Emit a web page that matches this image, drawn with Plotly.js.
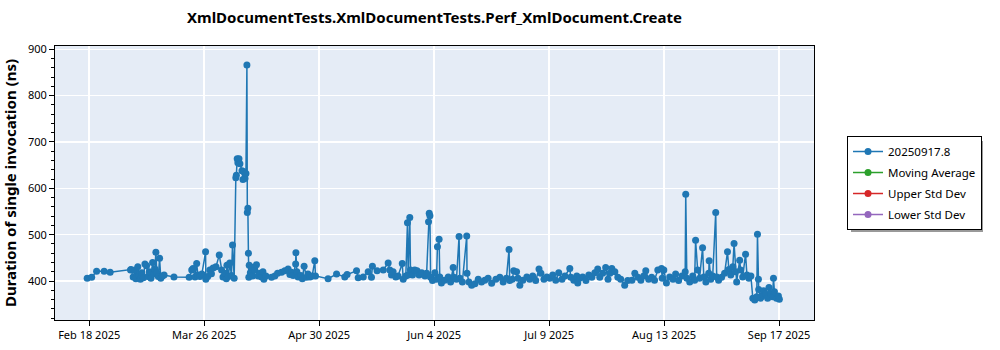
<!DOCTYPE html>
<html>
<head>
<meta charset="utf-8">
<script src="https://cdn.plot.ly/plotly-3.0.1.min.js"></script>
<style>html,body{margin:0;padding:0;background:#fff}#chart{width:1000px;height:350px}</style>
</head>
<body>
<div id="chart"></div>
<script>
const chartTitle = "XmlDocumentTests.XmlDocumentTests.Perf_XmlDocument.Create";
const yTitle = "Duration of single invocation (ns)";
const seriesNames = ["20250917.8", "Moving Average", "Upper Std Dev", "Lower Std Dev"];
const tickDates = ["2025-02-19", "2025-03-26", "2025-04-30", "2025-06-04", "2025-07-09", "2025-08-13", "2025-09-17"];
const tickLabels = ["Feb 18 2025", "Mar 26 2025", "Apr 30 2025", "Jun 4 2025", "Jul 9 2025", "Aug 13 2025", "Sep 17 2025"];

const runDates = [
"2025-02-18 09:00","2025-02-19 18:00","2025-02-21 06:00","2025-02-23 13:00","2025-02-25 09:00",
"2025-03-03 14:00","2025-03-03 17:00","2025-03-04 09:00","2025-03-04 22:00","2025-03-05 05:00","2025-03-05 19:00",
"2025-03-06 03:00","2025-03-06 14:00","2025-03-07 00:00","2025-03-07 12:00","2025-03-07 23:00","2025-03-08 11:00",
"2025-03-08 21:00","2025-03-09 07:00","2025-03-09 19:00","2025-03-10 07:00","2025-03-10 17:00","2025-03-11 00:00",
"2025-03-11 07:00","2025-03-11 14:00","2025-03-12 01:00","2025-03-12 10:00","2025-03-12 19:00","2025-03-13 07:00",
"2025-03-13 19:00","2025-03-16 19:00","2025-03-21 10:00","2025-03-22 05:00","2025-03-22 14:00","2025-03-23 05:00",
"2025-03-23 17:00","2025-03-24 02:00","2025-03-24 17:00","2025-03-25 07:00","2025-03-26 10:00","2025-03-26 12:00",
"2025-03-27 02:00","2025-03-27 17:00","2025-03-28 05:00","2025-03-28 17:00","2025-03-29 14:00","2025-03-30 14:00",
"2025-03-31 07:00","2025-03-31 17:00","2025-04-01 07:00","2025-04-01 18:00","2025-04-01 22:00","2025-04-02 09:00",
"2025-04-02 19:00","2025-04-03 07:00","2025-04-03 15:00","2025-04-04 03:00",
"2025-04-04 15:00","2025-04-04 19:00","2025-04-05 01:00","2025-04-05 06:00","2025-04-05 14:00","2025-04-05 21:00",
"2025-04-06 12:00","2025-04-06 19:00","2025-04-07 02:00","2025-04-07 10:00","2025-04-07 17:00","2025-04-08 00:00",
"2025-04-08 03:00","2025-04-08 07:00","2025-04-08 11:00",
"2025-04-08 14:00","2025-04-08 17:00","2025-04-09 01:00","2025-04-09 12:00","2025-04-09 19:00","2025-04-10 10:00",
"2025-04-10 22:00","2025-04-11 10:00","2025-04-11 23:00","2025-04-12 11:00","2025-04-12 21:00","2025-04-13 04:00",
"2025-04-13 19:00","2025-04-15 12:00","2025-04-16 12:00","2025-04-17 08:00","2025-04-18 13:00","2025-04-19 13:00",
"2025-04-20 13:00","2025-04-21 02:00","2025-04-21 14:00","2025-04-22 02:00","2025-04-22 20:00","2025-04-22 22:00",
"2025-04-23 05:00","2025-04-23 14:00","2025-04-24 10:00","2025-04-24 21:00","2025-04-25 10:00","2025-04-26 04:00",
"2025-04-26 14:00","2025-04-27 05:00","2025-04-27 21:00","2025-04-28 16:00","2025-04-28 21:00",
"2025-05-02 17:00","2025-05-05 07:00","2025-05-07 19:00","2025-05-08 12:00","2025-05-11 09:00","2025-05-11 21:00",
"2025-05-13 10:00","2025-05-14 22:00","2025-05-15 22:00","2025-05-16 05:00","2025-05-17 15:00","2025-05-19 12:00",
"2025-05-21 00:00","2025-05-21 12:00","2025-05-22 00:00","2025-05-22 12:00","2025-05-23 08:00","2025-05-24 00:00",
"2025-05-25 07:00","2025-05-25 14:00","2025-05-26 09:00","2025-05-26 21:00","2025-05-27 02:00","2025-05-27 14:00",
"2025-05-27 19:00","2025-05-28 10:00","2025-05-29 02:00","2025-05-29 19:00","2025-05-30 10:00","2025-05-31 05:00",
"2025-06-01 05:00","2025-06-01 17:00","2025-06-02 07:00","2025-06-02 12:00","2025-06-02 17:00","2025-06-02 22:00",
"2025-06-03 12:00","2025-06-04 05:00","2025-06-04 17:00","2025-06-05 00:00","2025-06-05 12:00","2025-06-05 17:00",
"2025-06-06 05:00","2025-06-07 05:00","2025-06-08 07:00","2025-06-09 00:00","2025-06-09 19:00","2025-06-10 00:00",
"2025-06-10 19:00","2025-06-11 14:00","2025-06-11 19:00","2025-06-12 14:00","2025-06-13 22:00","2025-06-14 00:00",
"2025-06-14 14:00","2025-06-15 10:00","2025-06-16 10:00","2025-06-17 10:00","2025-06-18 10:00","2025-06-19 10:00",
"2025-06-20 10:00","2025-06-21 12:00","2025-06-22 19:00","2025-06-24 00:00","2025-06-25 00:00","2025-06-26 00:00",
"2025-06-26 19:00","2025-06-27 00:00","2025-06-27 19:00","2025-06-28 05:00","2025-06-29 02:00","2025-06-29 12:00",
"2025-06-30 02:00","2025-07-01 00:00","2025-07-02 05:00","2025-07-03 02:00","2025-07-04 00:00","2025-07-04 22:00",
"2025-07-05 22:00","2025-07-06 12:00","2025-07-07 10:00","2025-07-08 07:00","2025-07-09 05:00","2025-07-10 02:00",
"2025-07-11 00:00","2025-07-11 22:00","2025-07-12 22:00","2025-07-13 19:00","2025-07-15 07:00","2025-07-15 14:00",
"2025-07-16 12:00","2025-07-17 10:00","2025-07-17 17:00","2025-07-18 07:00","2025-07-19 05:00","2025-07-20 05:00",
"2025-07-21 02:00","2025-07-22 00:00","2025-07-22 22:00","2025-07-23 19:00","2025-07-24 10:00","2025-07-25 07:00",
"2025-07-26 05:00","2025-07-26 22:00","2025-07-27 12:00","2025-07-28 02:00","2025-07-29 00:00","2025-07-29 22:00",
"2025-07-30 19:00","2025-08-01 00:00","2025-08-01 22:00","2025-08-03 05:00","2025-08-04 02:00","2025-08-05 00:00",
"2025-08-05 22:00","2025-08-06 19:00","2025-08-07 10:00","2025-08-08 07:00","2025-08-09 05:00","2025-08-10 02:00",
"2025-08-11 02:00","2025-08-12 05:00","2025-08-12 10:00","2025-08-12 22:00","2025-08-13 17:00","2025-08-14 17:00",
"2025-08-15 17:00","2025-08-16 12:00","2025-08-17 10:00","2025-08-18 10:00","2025-08-19 10:00","2025-08-19 14:00",
"2025-08-19 22:00","2025-08-20 19:00","2025-08-21 17:00","2025-08-22 07:00","2025-08-22 14:00","2025-08-23 05:00",
"2025-08-23 19:00","2025-08-24 17:00","2025-08-25 02:00","2025-08-25 17:00","2025-08-26 14:00","2025-08-26 17:00",
"2025-08-27 05:00","2025-08-27 19:00","2025-08-28 17:00","2025-08-29 00:00","2025-08-29 14:00","2025-08-30 12:00",
"2025-08-31 10:00","2025-09-01 07:00","2025-09-01 17:00","2025-09-02 07:00","2025-09-02 22:00","2025-09-03 07:00",
"2025-09-03 17:00","2025-09-04 02:00","2025-09-05 00:00","2025-09-05 07:00","2025-09-05 22:00","2025-09-06 19:00",
"2025-09-07 05:00","2025-09-07 19:00","2025-09-08 10:00","2025-09-09 00:00","2025-09-09 14:00","2025-09-10 05:00",
"2025-09-10 10:00","2025-09-10 17:00","2025-09-10 19:00","2025-09-11 10:00","2025-09-12 00:00","2025-09-12 07:00",
"2025-09-12 22:00","2025-09-13 12:00","2025-09-13 22:00","2025-09-14 10:00","2025-09-15 00:00","2025-09-15 07:00",
"2025-09-15 14:00","2025-09-16 05:00","2025-09-16 19:00","2025-09-17 02:00"
];

const durationsNs = [
406,408,421,421,419,
424,425,409,424,405,431,
412,404,418,407,437,433,
410,420,406,440,415,426,
462,418,410,449,406,411,
413,409,408,424,427,409,
438,413,410,415,463,404,
410,424,416,428,431,456,
424,409,417,405,434,410,
439,412,478,406,
623,628,664,655,664,653,
638,619,636,621,632,866,
548,557,460,
408,434,418,430,411,424,
435,411,417,409,420,404,
411,408,411,417,419,422,
426,414,419,412,437,461,
420,409,412,405,432,408,
415,409,411,444,411,
405,415,409,414,422,407,
409,420,408,432,422,424,
439,424,413,420,409,411,
438,404,411,526,413,537,
424,413,424,422,413,418,
411,417,528,546,541,408,
401,418,404,474,490,409,
396,402,409,398,429,408,
404,496,406,398,497,417,
398,391,394,404,398,402,
406,395,404,408,398,406,
468,401,404,422,420,406,
391,402,409,404,411,401,
426,417,404,409,406,413,
402,418,404,411,427,408,
402,411,396,406,409,401,
413,408,418,426,408,417,
429,404,417,427,420,408,
404,391,401,402,417,408,
402,411,422,404,408,402,
424,427,406,424,396,409,
404,415,401,411,420,587,
406,398,411,402,488,424,
406,472,409,398,417,444,
404,411,548,409,402,408,
417,463,425,413,431,481,
420,398,445,424,409,458,
413,406,411,363,359,366,
501,404,382,363,370,379,
372,363,386,373,366,406,
377,363,368,361
];

const blue = "#1f77b4";
const traces = [
  {x: runDates, y: durationsNs, name: seriesNames[0], legendgroup: "a", type: "scatter", mode: "lines+markers",
   line: {color: blue, width: 1.5}, marker: {color: blue, size: 7}},
  {x: [null], y: [null], name: seriesNames[1], legendgroup: "b", type: "scatter", mode: "lines+markers",
   line: {color: "#2ca02c", width: 1.5}, marker: {color: "#2ca02c", size: 7}},
  {x: [null], y: [null], name: seriesNames[2], legendgroup: "c", type: "scatter", mode: "lines+markers",
   line: {color: "#d62728", width: 1.5}, marker: {color: "#d62728", size: 7}},
  {x: [null], y: [null], name: seriesNames[3], legendgroup: "d", type: "scatter", mode: "lines+markers",
   line: {color: "#9467bd", width: 1.5}, marker: {color: "#9467bd", size: 7}}
];

const layout = {
  width: 1000, height: 350,
  margin: {l: 55, r: 186, t: 46, b: 30},
  paper_bgcolor: "#ffffff",
  plot_bgcolor: "#e5ecf6",
  font: {family: "Noto Sans, Open Sans, sans-serif", size: 11, color: "#000"},
  title: {text: "<b>" + chartTitle + "</b>", x: (55 + 759/2)/1000, xanchor: "center", y: 0.948, yanchor: "middle",
          font: {size: 15, color: "#000", family: "Noto Sans, sans-serif"}},
  showlegend: true,
  legend: {x: 1.0435, xanchor: "left", y: 0.6715, yanchor: "top", bgcolor: "#fff",
           bordercolor: "#000", borderwidth: 1, font: {size: 11.5, color: "#000"},
           traceorder: "grouped", tracegroupgap: 2},
  xaxis: {type: "date", range: ["2025-02-08 14:00", "2025-09-27 15:00"],
          tickvals: tickDates, ticktext: tickLabels,
          showgrid: true, gridcolor: "#ffffff", gridwidth: 1.5,
          showline: true, linecolor: "#000", linewidth: 1, mirror: true,
          ticks: "outside", ticklen: 5, tickcolor: "#000", zeroline: false},
  yaxis: {range: [316, 907], tickvals: [400, 500, 600, 700, 800, 900],
          showgrid: true, gridcolor: "#ffffff", gridwidth: 1.5,
          showline: true, linecolor: "#000", linewidth: 1, mirror: true,
          ticks: "outside", ticklen: 5, tickcolor: "#000", zeroline: false,
          minor: {dtick: 20, ticks: "outside", ticklen: 3, tickcolor: "#000", showgrid: false},
          title: {text: "<b>" + yTitle + "</b>", font: {size: 15, color: "#000"}, standoff: 10}},
  shapes: [
    {type: "rect", xref: "paper", yref: "paper", layer: "below",
     x0: (851 - 55) / 759, x1: (983 - 55) / 759, y0: (320 - 232) / 274, y1: (320 - 141) / 274,
     fillcolor: "#999", line: {width: 0}}
  ]
};

Plotly.newPlot("chart", traces, layout, {displayModeBar: false, staticPlot: true});
</script>
</body>
</html>
